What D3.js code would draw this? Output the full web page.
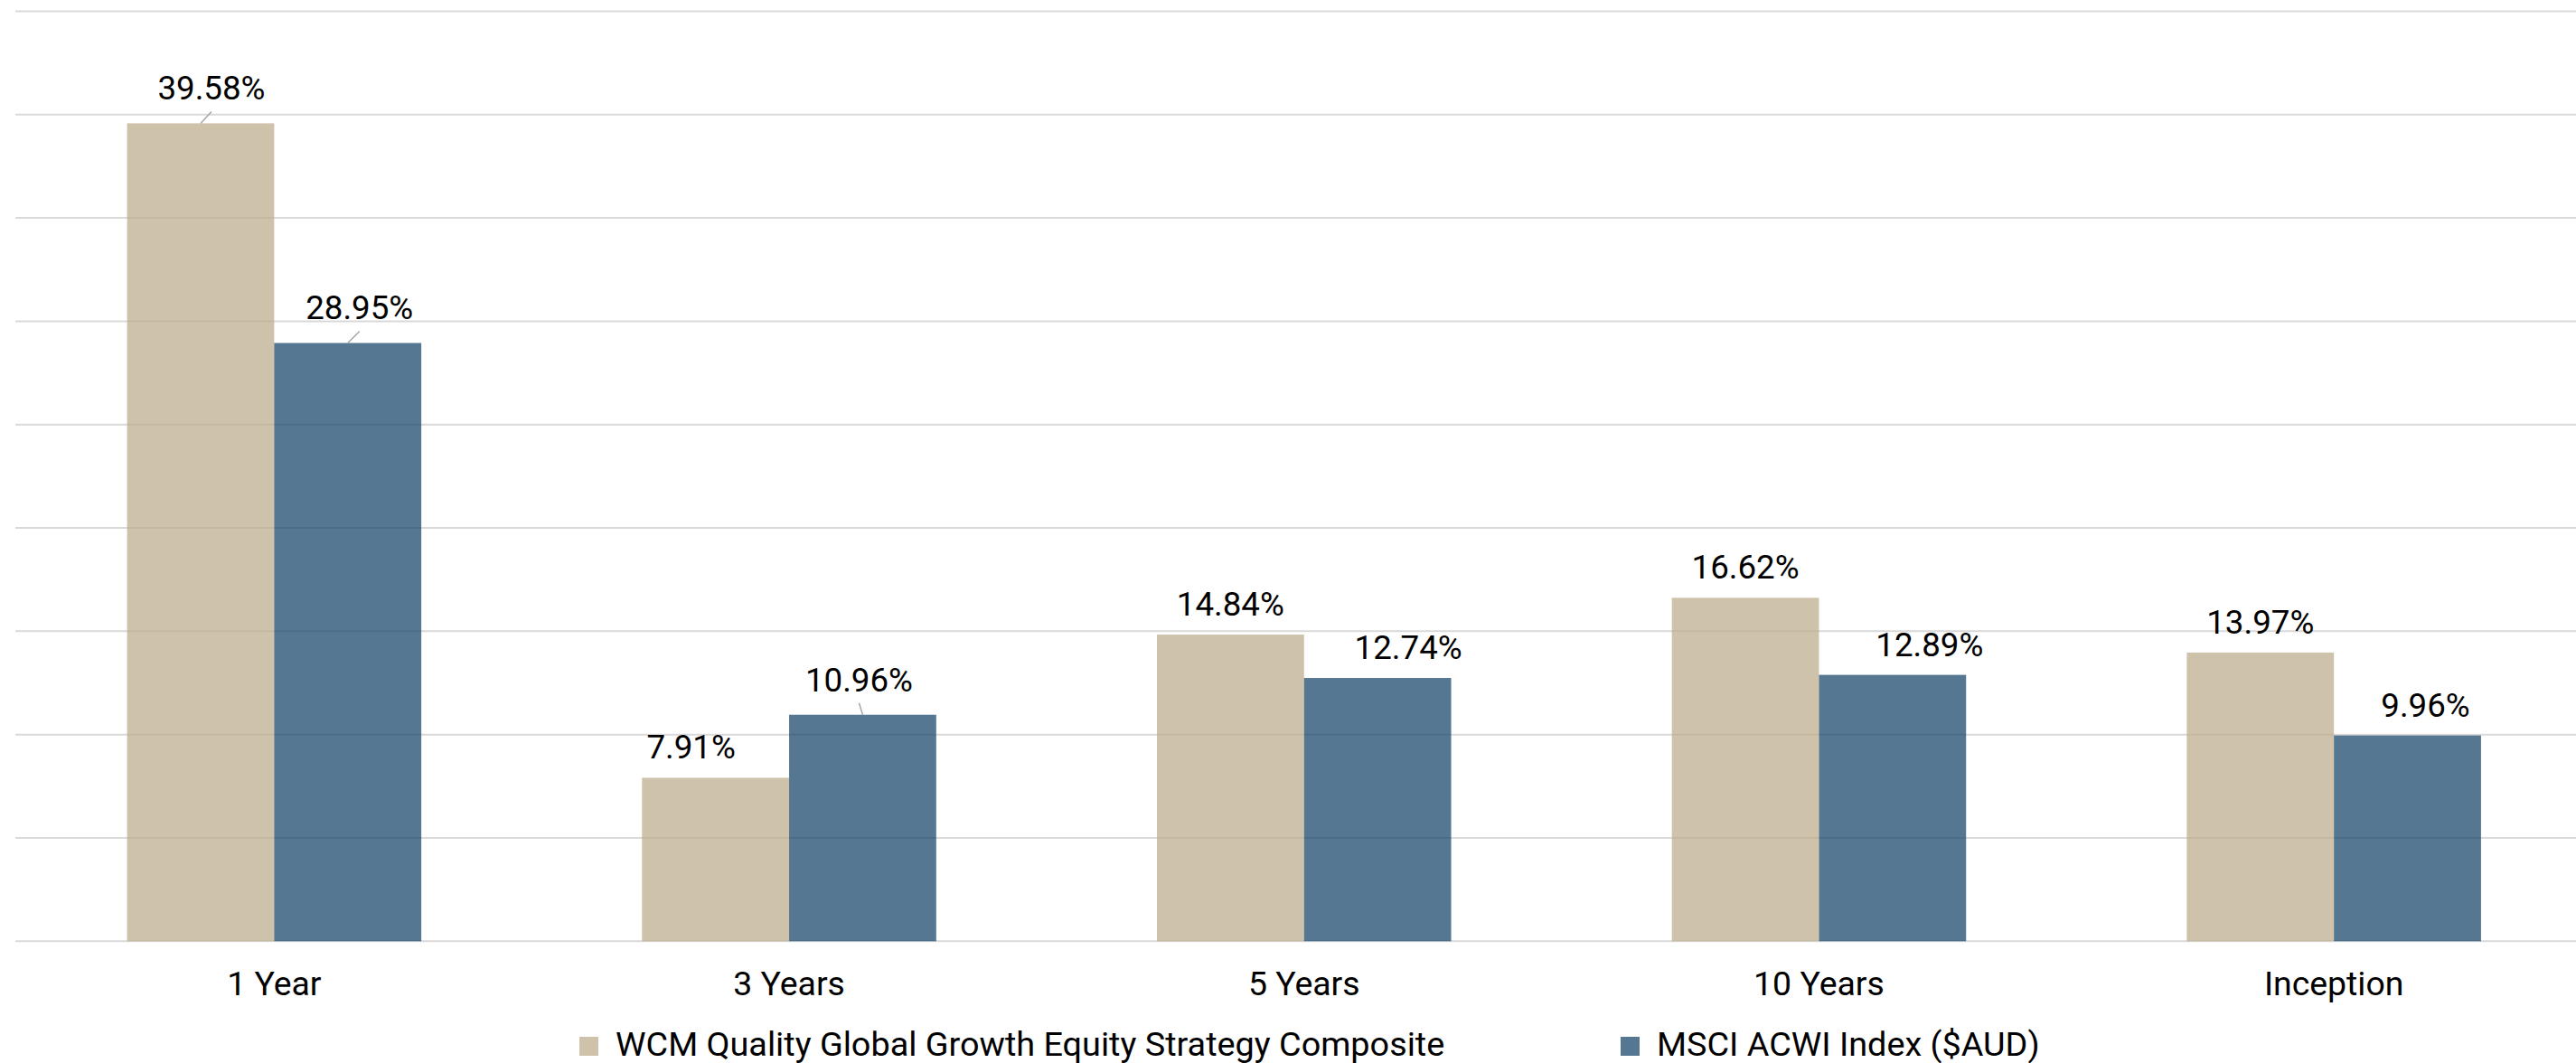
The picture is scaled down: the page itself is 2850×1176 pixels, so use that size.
<!DOCTYPE html>
<html>
<head>
<meta charset="utf-8">
<script src="https://cdn.jsdelivr.net/npm/d3@7"></script>
<style>
  html, body { margin: 0; padding: 0; background: #fff; }
  svg { display: block; font-family: Roboto, "Noto Sans", sans-serif; }
</style>
</head>
<body>
<svg id="chart" width="2850" height="1176"></svg>
<script>
// ---- data ----
const categories = ["1 Year", "3 Years", "5 Years", "10 Years", "Inception"];
const seriesNames = ["WCM Quality Global Growth Equity Strategy Composite", "MSCI ACWI Index ($AUD)"];
const wcmValues = [39.58, 7.91, 14.84, 16.62, 13.97];
const msciValues = [28.95, 10.96, 12.74, 12.89, 9.96];
const yTicks = [0, 5, 10, 15, 20, 25, 30, 35, 40, 45];

// ---- label placement tweaks (style, not data) ----
const labelDx = [[12, -27, 0, 0, 0], [13, -4, 34, 41, 20]];
const hasLeader = [[true, false, false, false, false], [true, true, false, false, false]];
const colors = ["#BDAD8E", "#19476A"];
const barOpacity = 0.74;

const svg = d3.select("#chart");
const x = d3.scaleBand().domain(categories).range([18.5, 2867]).padding(0);
const bw = x.bandwidth();
const xs = d3.scaleBand().domain(seriesNames).range([bw * 0.2143, bw * 0.7857]).padding(0);
const y = d3.scaleLinear().domain([0, 45]).range([1041.3, 12.5]);

// gridlines
svg.append("g").selectAll("line").data(yTicks).join("line")
  .attr("x1", 17).attr("x2", 2850)
  .attr("y1", d => y(d)).attr("y2", d => y(d))
  .attr("stroke", "#D9D9D9").attr("stroke-width", 2);

const seriesData = [wcmValues, msciValues];

// bars
seriesData.forEach((vals, si) => {
  svg.append("g").selectAll("rect").data(vals).join("rect")
    .attr("x", (d, i) => x(categories[i]) + xs(seriesNames[si]))
    .attr("width", xs.bandwidth())
    .attr("y", d => y(d))
    .attr("height", d => y(0) - y(d))
    .attr("fill", colors[si])
    .attr("fill-opacity", barOpacity);
});

// labels
seriesData.forEach((vals, si) => {
  const g = svg.append("g");
  vals.forEach((v, i) => {
    const cx = x(categories[i]) + xs(seriesNames[si]) + xs.bandwidth() / 2;
    const lead = hasLeader[si][i];
    const base = y(v) - (lead ? 26 : 21);
    const lx = cx + labelDx[si][i];
    g.append("text")
      .attr("x", lx).attr("y", base)
      .attr("text-anchor", "middle")
      .attr("font-size", 36.7).attr("fill", "#000")
      .text(v.toFixed(2) + "%");
    if (lead) {
      g.append("line")
        .attr("x1", lx).attr("y1", base + 13)
        .attr("x2", cx).attr("y2", y(v))
        .attr("stroke", "#A6A6A6").attr("stroke-width", 1.5);
    }
  });
});

// category axis labels
svg.append("g").selectAll("text").data(categories).join("text")
  .attr("x", d => x(d) + bw / 2)
  .attr("y", 1101)
  .attr("text-anchor", "middle")
  .attr("font-size", 37.4).attr("fill", "#000")
  .text(d => d);

// legend
const legendX = [641, 1793];
const lg = svg.append("g");
seriesNames.forEach((name, si) => {
  lg.append("rect").attr("x", legendX[si]).attr("y", 1147).attr("width", 21).attr("height", 21)
    .attr("fill", colors[si]).attr("fill-opacity", barOpacity);
  lg.append("text").attr("x", legendX[si] + 40).attr("y", 1168)
    .attr("font-size", 37.8).attr("fill", "#000").text(name);
});
</script>
</body>
</html>
